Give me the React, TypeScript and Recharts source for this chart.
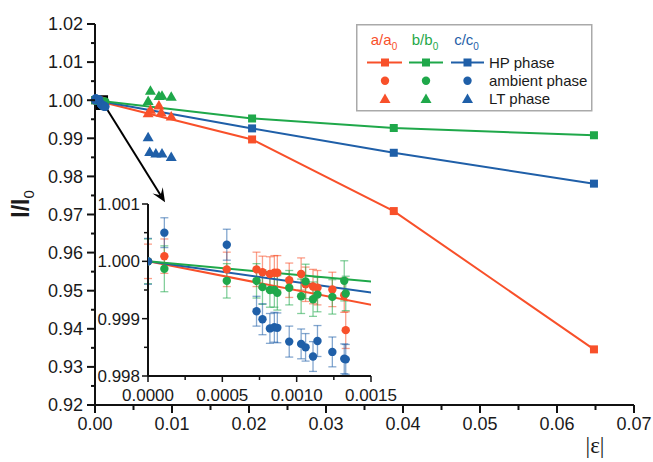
import React from "react";
import {
  ScatterChart,
  Scatter,
  XAxis,
  YAxis,
  ErrorBar,
  ReferenceArea,
  ReferenceLine,
  CartesianGrid,
} from "recharts";

const RED = "#f8502a";
const GREEN = "#1fa84a";
const BLUE = "#1f5fa8";
const FONT = "Arial, 'Liberation Sans', sans-serif";

// HP phase (squares + lines)
const hpX = [0, 0.0204, 0.0388, 0.0648];
const hpA = [1.0, 0.9897, 0.9709, 0.9346];
const hpB = [1.0, 0.9952, 0.9927, 0.9908];
const hpC = [1.0, 0.9926, 0.9862, 0.9781];

// LT phase (triangles)
const ltAx = [0.0069, 0.0072, 0.0083, 0.0086, 0.0099];
const ltA = [0.9966, 0.9975, 0.9986, 0.9968, 0.9957];
const ltBx = [0.0069, 0.0072, 0.0083, 0.0087, 0.0099];
const ltB = [0.9998, 1.0025, 1.0011, 1.0012, 1.0009];
const ltCx = [0.0069, 0.0071, 0.0079, 0.0087, 0.0099];
const ltC = [0.9903, 0.9864, 0.986, 0.986, 0.9851];

// ambient phase (circles with error bars)
const ambX = [0, 0.00011, 0.00053, 0.00073, 0.00077, 0.00082, 0.00085, 0.00087, 0.00095, 0.00103, 0.00106, 0.00111, 0.00114, 0.00124, 0.00132, 0.00133];
const ambA = [1.0, 1.00009, 0.99986, 0.99986, 0.99981, 0.99978, 0.9998, 0.9998, 0.99967, 0.99978, 0.9996, 0.99956, 0.99954, 0.99951, 0.99941, 0.9988];
const ambAErr = [0.0003, 0.0003, 0.0003, 0.0003, 0.00028, 0.0003, 0.0003, 0.0003, 0.0003, 0.00028, 0.0003, 0.0003, 0.0003, 0.0003, 0.0003, 0.00032];
const ambB = [1.0, 0.99987, 0.99966, 0.99966, 0.99955, 0.9995, 0.9995, 0.99945, 0.99954, 0.99939, 0.99965, 0.99934, 0.99942, 0.99938, 0.99966, 0.99944];
const ambBErr = [0.00039, 0.0004, 0.0003, 0.0003, 0.0003, 0.0003, 0.0003, 0.0003, 0.0003, 0.0003, 0.0003, 0.0003, 0.0003, 0.0003, 0.00035, 0.0003];
const ambC = [1.0, 1.0005, 1.00029, 0.99913, 0.99899, 0.99883, 0.99885, 0.99884, 0.9986, 0.99856, 0.9985, 0.99834, 0.99861, 0.99842, 0.9983, 0.99829];
const ambCErr = [0.0004, 0.00026, 0.00027, 0.00026, 0.00027, 0.00026, 0.00026, 0.00026, 0.00027, 0.00026, 0.00024, 0.00026, 0.00027, 0.00026, 0.00026, 0.00026];

// ticks
const mainXTicks = [0, 0.005, 0.01, 0.015, 0.02, 0.025, 0.03, 0.035, 0.04, 0.045, 0.05, 0.055, 0.06, 0.065, 0.07];
const mainYTicks = [0.92, 0.925, 0.93, 0.935, 0.94, 0.945, 0.95, 0.955, 0.96, 0.965, 0.97, 0.975, 0.98, 0.985, 0.99, 0.995, 1.0, 1.005, 1.01, 1.015, 1.02];
const insetXTicks = [0, 0.00025, 0.0005, 0.00075, 0.001, 0.00125, 0.0015];
const insetYTicks = [0.998, 0.9985, 0.999, 0.9995, 1.0, 1.0005, 1.001];

const pts = (xs: number[], ys: number[], errs?: number[]) =>
  xs.map((x, i) => ({ x, y: ys[i], err: errs ? errs[i] : 0 }));

const isMult = (v: number, step: number) => Math.abs(v / step - Math.round(v / step)) < 1e-6;

const square = (color: string) => (p: any) => (
  <rect x={p.cx - 4} y={p.cy - 4} width={8} height={8} fill={color} />
);
const circle = (color: string) => (p: any) => <circle cx={p.cx} cy={p.cy} r={4.2} fill={color} />;
const triangle = (color: string) => (p: any) => (
  <polygon points={`${p.cx},${p.cy - 5.5} ${p.cx + 5.5},${p.cy + 4} ${p.cx - 5.5},${p.cy + 4}`} fill={color} />
);
const nothing = () => <g />;

const MainXTick = (p: any) => {
  const v = p.payload.value;
  const major = isMult(v, 0.01);
  return (
    <g>
      <line x1={p.x} y1={p.y} x2={p.x} y2={p.y + (major ? 8 : 5)} stroke="#111" strokeWidth={2} />
      {major && (
        <text x={p.x} y={p.y + 25} textAnchor="middle" fontSize={18} fontFamily={FONT} fill="#1a1a1a">
          {v.toFixed(2)}
        </text>
      )}
    </g>
  );
};

const MainYTick = (p: any) => {
  const v = p.payload.value;
  const major = isMult(v, 0.01);
  return (
    <g>
      <line x1={p.x} y1={p.y} x2={p.x - (major ? 8 : 4)} y2={p.y} stroke="#111" strokeWidth={2} />
      {major && (
        <text x={p.x - 12} y={p.y} dy="0.35em" textAnchor="end" fontSize={18} fontFamily={FONT} fill="#1a1a1a">
          {v.toFixed(2)}
        </text>
      )}
    </g>
  );
};

const InsetXTick = (p: any) => {
  const v = p.payload.value;
  const major = isMult(v, 0.0005);
  return (
    <g>
      <line x1={p.x} y1={p.y} x2={p.x} y2={p.y + (major ? 6 : 4)} stroke="#111" strokeWidth={1.5} />
      {major && (
        <text x={p.x} y={p.y + 25} textAnchor="middle" fontSize={17} fontFamily={FONT} fill="#1a1a1a">
          {v.toFixed(4)}
        </text>
      )}
    </g>
  );
};

const InsetYTick = (p: any) => {
  const v = p.payload.value;
  const major = isMult(v, 0.001);
  return (
    <g>
      <line x1={p.x} y1={p.y} x2={p.x - (major ? 6 : 4)} y2={p.y} stroke="#111" strokeWidth={1.5} />
      {major && (
        <text x={p.x - 8} y={p.y} dy="0.35em" textAnchor="end" fontSize={17} fontFamily={FONT} fill="#1a1a1a">
          {v.toFixed(3)}
        </text>
      )}
    </g>
  );
};

const Arrow = (p: any) => {
  const { x1, y1, x2, y2 } = p;
  const a = Math.atan2(y2 - y1, x2 - x1);
  const c = Math.cos(a), s = Math.sin(a);
  const L = 14, W = 6;
  const bx = x2 - L * c, by = y2 - L * s;
  const nx = x2 - L * 0.6 * c, ny = y2 - L * 0.6 * s;
  return (
    <g>
      <line x1={x1} y1={y1} x2={nx} y2={ny} stroke="#000" strokeWidth={2} />
      <polygon
        points={`${x2},${y2} ${bx - W * s},${by + W * c} ${nx},${ny} ${bx + W * s},${by - W * c}`}
        fill="#000"
      />
    </g>
  );
};

const Legend = () => {
  const cols = [
    { c: RED, t: "a/a", cx: 29, lx1: 11, lx2: 46 },
    { c: GREEN, t: "b/b", cx: 70, lx1: 53, lx2: 87 },
    { c: BLUE, t: "c/c", cx: 111.5, lx1: 95, lx2: 128 },
  ];
  return (
    <svg width={237} height={88} style={{ position: "absolute", left: 356, top: 24 }}>
      <rect x={0.75} y={0.75} width={235} height={86} fill="#fff" stroke="#aaa" strokeWidth={1.5} />
      {cols.map((k) => (
        <g key={k.t}>
          <text x={k.cx - 1} y={21} textAnchor="middle" fontSize={15} fontFamily={FONT} fill={k.c}>
            {k.t}
            <tspan fontSize={10} dy={5}>0</tspan>
          </text>
          <line x1={k.lx1} y1={38.5} x2={k.lx2} y2={38.5} stroke={k.c} strokeWidth={2} />
          {square(k.c)({ cx: k.cx, cy: 38.5 })}
          {circle(k.c)({ cx: k.cx, cy: 56.7 })}
          {triangle(k.c)({ cx: k.cx, cy: 75 })}
        </g>
      ))}
      {["HP phase", "ambient phase", "LT phase"].map((t, i) => (
        <text key={t} x={133} y={38.5 + i * 18.3} dy="0.35em" fontSize={15} fontFamily={FONT} fill="#1a1a1a">
          {t}
        </text>
      ))}
    </svg>
  );
};

const axisStyle = { stroke: "#111", strokeWidth: 2 };

export default function App() {
  return (
    <div style={{ position: "absolute", left: 0, top: 0, width: 653, height: 462, background: "#fff" }}>
      <ScatterChart width={653} height={462} margin={{ top: 24, right: 19, bottom: 0, left: 0 }}>
        <XAxis
          type="number"
          dataKey="x"
          domain={[0, 0.07]}
          ticks={mainXTicks}
          interval={0}
          tick={(p: any) => <MainXTick {...p} />}
          tickLine={false}
          tickSize={0}
          tickMargin={0}
          axisLine={axisStyle}
          height={57}
        />
        <YAxis
          type="number"
          dataKey="y"
          domain={[0.92, 1.02]}
          ticks={mainYTicks}
          interval={0}
          tick={(p: any) => <MainYTick {...p} />}
          tickLine={false}
          tickSize={0}
          tickMargin={0}
          axisLine={axisStyle}
          width={95}
        />
        <Scatter data={pts(hpX, hpA)} shape={square(RED)} line={{ stroke: RED, strokeWidth: 2 }} isAnimationActive={false} />
        <Scatter data={pts(hpX, hpC)} shape={square(BLUE)} line={{ stroke: BLUE, strokeWidth: 2 }} isAnimationActive={false} />
        <Scatter data={pts(hpX, hpB)} shape={square(GREEN)} line={{ stroke: GREEN, strokeWidth: 2 }} isAnimationActive={false} />
        <Scatter data={pts(ltBx, ltB)} shape={triangle(GREEN)} isAnimationActive={false} />
        <Scatter data={pts(ltAx, ltA)} shape={triangle(RED)} isAnimationActive={false} />
        <Scatter data={pts(ltCx, ltC)} shape={triangle(BLUE)} isAnimationActive={false} />
        <Scatter data={pts(ambX, ambA)} shape={circle(RED)} isAnimationActive={false} />
        <Scatter data={pts(ambX, ambB)} shape={circle(GREEN)} isAnimationActive={false} />
        <Scatter data={pts(ambX, ambC)} shape={circle(BLUE)} isAnimationActive={false} />
        <ReferenceArea x1={0.0002} x2={0.0015} y1={0.9978} y2={1.0009} fill="none" stroke="#000" strokeWidth={3} ifOverflow="visible" />
        <ReferenceLine
          segment={[{ x: 0.0015, y: 0.9978 }, { x: 0.0091, y: 0.9732 }]}
          shape={Arrow}
          ifOverflow="visible"
        />
      </ScatterChart>

      <svg width={40} height={60} style={{ position: "absolute", left: 0, top: 175 }}>
        <text
          transform="translate(29,29) rotate(-90)"
          textAnchor="middle"
          fontSize={23}
          fontWeight="bold"
          fontFamily={FONT}
          fill="#1a1a1a"
        >
          l/l<tspan fontSize={15} fontWeight="normal" dy={5}>0</tspan>
        </text>
      </svg>
      <svg width={60} height={40} style={{ position: "absolute", left: 565, top: 425 }}>
        <text x={30} y={28} textAnchor="middle" fontSize={23} fontFamily="'Liberation Serif', 'DejaVu Serif', serif" fill="#1a1a1a">
          |ε|
        </text>
      </svg>

      <Legend />

      <div style={{ position: "absolute", left: 88, top: 190 }}>
        <ScatterChart width={330} height={225} margin={{ top: 14, right: 47, bottom: 4, left: 0 }}>
          <CartesianGrid fill="#fff" horizontal={false} vertical={false} />
          <XAxis
            type="number"
            dataKey="x"
            domain={[0, 0.0015]}
            allowDataOverflow
            ticks={insetXTicks}
            interval={0}
            tick={(p: any) => <InsetXTick {...p} />}
            tickLine={false}
            tickSize={0}
            tickMargin={0}
            axisLine={axisStyle}
            height={35}
          />
          <XAxis xAxisId="top" orientation="top" type="number" dataKey="x" domain={[0, 0.0015]} allowDataOverflow tick={false} tickLine={false} axisLine={axisStyle} height={0} />
          <YAxis
            type="number"
            dataKey="y"
            domain={[0.998, 1.001]}
            allowDataOverflow
            ticks={insetYTicks}
            interval={0}
            tick={(p: any) => <InsetYTick {...p} />}
            tickLine={false}
            tickSize={0}
            tickMargin={0}
            axisLine={axisStyle}
            width={60}
          />
          <YAxis yAxisId="right" orientation="right" type="number" dataKey="y" domain={[0.998, 1.001]} allowDataOverflow tick={false} tickLine={false} axisLine={axisStyle} width={0} />
          <Scatter data={pts(hpX, hpA)} shape={nothing} line={{ stroke: RED, strokeWidth: 2 }} isAnimationActive={false} />
          <Scatter data={pts(hpX, hpC)} shape={nothing} line={{ stroke: BLUE, strokeWidth: 2 }} isAnimationActive={false} />
          <Scatter data={pts(hpX, hpB)} shape={nothing} line={{ stroke: GREEN, strokeWidth: 2 }} isAnimationActive={false} />
          <Scatter data={pts(ambX, ambA, ambAErr)} shape={circle(RED)} isAnimationActive={false}>
            <ErrorBar dataKey="err" direction="y" width={4} stroke={RED} strokeOpacity={0.55} strokeWidth={1.3} />
          </Scatter>
          <Scatter data={pts(ambX, ambB, ambBErr)} shape={circle(GREEN)} isAnimationActive={false}>
            <ErrorBar dataKey="err" direction="y" width={4} stroke={GREEN} strokeOpacity={0.55} strokeWidth={1.3} />
          </Scatter>
          <Scatter data={pts(ambX, ambC, ambCErr)} shape={circle(BLUE)} isAnimationActive={false}>
            <ErrorBar dataKey="err" direction="y" width={4} stroke={BLUE} strokeOpacity={0.55} strokeWidth={1.3} />
          </Scatter>
        </ScatterChart>
      </div>
    </div>
  );
}
